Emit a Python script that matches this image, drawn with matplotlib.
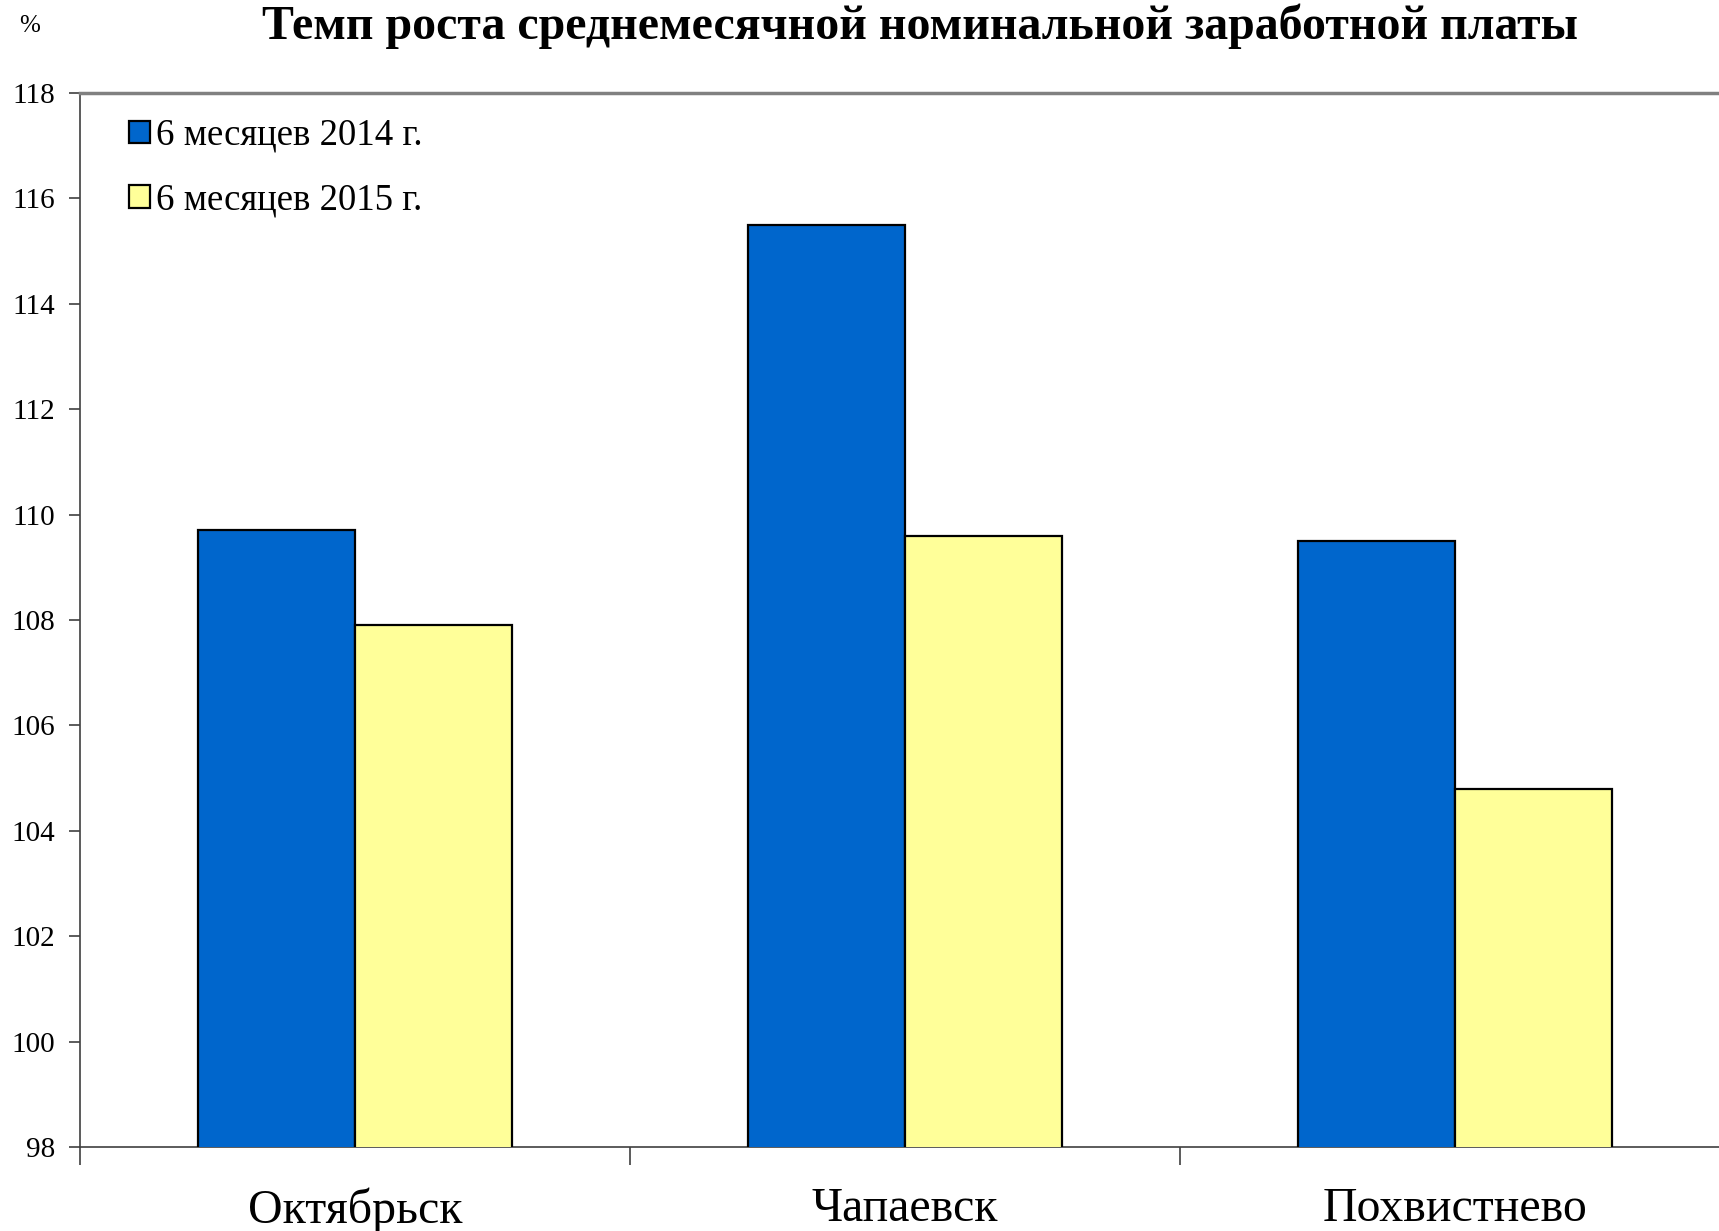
import matplotlib
matplotlib.use("Agg")
import matplotlib.pyplot as plt
import numpy as np

categories = ["Октябрьск", "Чапаевск", "Похвистнево"]
series_names = ["6 месяцев 2014 г.", "6 месяцев 2015 г."]
values_2014 = [109.7, 115.5, 109.5]
values_2015 = [107.9, 109.6, 104.8]
yticks = list(range(98, 119, 2))

plt.rcParams['font.family'] = ['Liberation Serif', 'DejaVu Serif']

fig = plt.figure(figsize=(17.19, 12.31), dpi=100)
ax = fig.add_axes([80 / 1719, 1 - 1147 / 1231, 1650 / 1719, (1147 - 93) / 1231])

x = np.arange(len(categories))
w = 0.286
ax.bar(x - w / 2, values_2014, w, color="#0066CC", edgecolor="black", linewidth=1.6,
       label=series_names[0], zorder=3)
ax.bar(x + w / 2, values_2015, w, color="#FFFF99", edgecolor="black", linewidth=1.6,
       label=series_names[1], zorder=3)

ax.set_ylim(98, 118)
ax.set_xlim(-0.5, 2.5)
ax.set_yticks(yticks)
ax.set_yticklabels([str(t) for t in yticks], fontsize=21)
ax.tick_params(axis="y", direction="out", length=8, width=1.2, color="#404040", pad=10)

ax.set_xticks(x)
ax.set_xticklabels(categories, fontsize=34.5)
ax.tick_params(axis="x", which="major", length=0, pad=29)
ax.set_xticks([-0.5, 0.5, 1.5, 2.5], minor=True)
ax.tick_params(axis="x", which="minor", direction="out", length=13, width=1.2, color="#404040")

ax.spines["right"].set_visible(False)
ax.spines["top"].set_color("#808080")
ax.spines["top"].set_linewidth(2.5)
ax.spines["left"].set_color("#404040")
ax.spines["left"].set_linewidth(1.2)
ax.spines["bottom"].set_color("#404040")
ax.spines["bottom"].set_linewidth(1.2)

leg = ax.legend(loc="upper left", bbox_to_anchor=(0.021, 0.99), frameon=False, fontsize=26.5,
                handlelength=0.55, handleheight=0.55, handletextpad=0.18, labelspacing=0.82,
                borderaxespad=0)

fig.text(0.535, 0.997, "Темп роста среднемесячной номинальной заработной платы",
         ha="center", va="top", fontsize=34.5, fontweight="bold")
fig.text(0.011, 0.988, "%", ha="left", va="top", fontsize=18)

fig.savefig("out.png", dpi=100)
